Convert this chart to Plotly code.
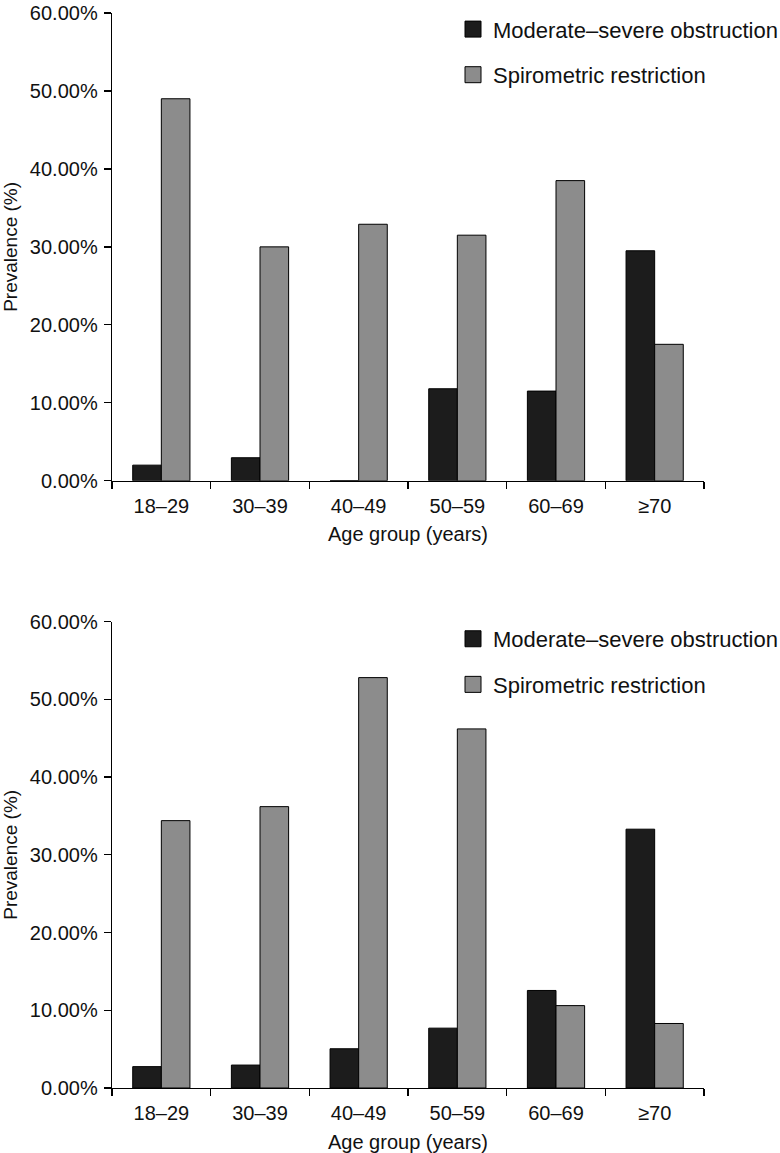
import plotly.graph_objects as go

categories = ["18–29", "30–39", "40–49", "50–59", "60–69", "≥70"]
series_names = ["Moderate–severe obstruction", "Spirometric restriction"]
top_obstruction = [2.0, 2.95, 0.0, 11.8, 11.5, 29.5]
top_restriction = [49.0, 30.0, 32.9, 31.5, 38.5, 17.5]
bottom_obstruction = [2.75, 2.95, 5.05, 7.7, 12.55, 33.3]
bottom_restriction = [34.4, 36.2, 52.8, 46.2, 10.6, 8.3]
y_ticks = [0, 10, 20, 30, 40, 50, 60]
x_title = "Age group (years)"
y_title = "Prevalence (%)"

colors = ["#1c1c1c", "#8c8c8c"]
FONT = "Liberation Sans, Arial, Helvetica, sans-serif"
W, H = 780, 1153

# plot area in pixels
L, R, T, B = 112, 704, 12.7, 1088.3
PH = B - T
PW = R - L

fig = go.Figure()

panels = [
    ("x", "y", [top_obstruction, top_restriction], "legend"),
    ("x2", "y2", [bottom_obstruction, bottom_restriction], "legend2"),
]
for xa, ya, vals, leg in panels:
    for i, (name, v) in enumerate(zip(series_names, vals)):
        fig.add_trace(go.Bar(
            x=categories, y=v, name=name, xaxis=xa, yaxis=ya,
            marker=dict(color=colors[i], line=dict(color="#000000", width=1)),
            showlegend=False,
        ))
        fig.add_trace(go.Scatter(
            x=[None], y=[None], mode="markers", name=name, xaxis=xa, yaxis=ya,
            marker=dict(symbol="square", size=16, color=colors[i],
                        line=dict(color="#000000", width=1)),
            legend=leg, legendgroup=f"{leg}_{i}", showlegend=True,
        ))

top_dom = [(B - 480.7) / PH, 1]
bot_dom = [0, (B - 621.7) / PH]

def xaxis(anchor):
    return dict(
        domain=[0, 1], anchor=anchor, type="category",
        range=[-0.5, 5.5], automargin=False,
        showline=True, linecolor="#000000", linewidth=1.3,
        ticks="outside", tickson="boundaries", ticklen=7, tickwidth=1.3,
        tickcolor="#000000", showgrid=False, zeroline=False,
        ticklabelstandoff=7,
        tickfont=dict(family=FONT, size=20, color="#111111"),
        title=dict(text=x_title, font=dict(family=FONT, size=20, color="#111111"), standoff=11),
        fixedrange=True,
    )

def yaxis(anchor, dom):
    return dict(
        domain=dom, anchor=anchor, range=[0, 60], automargin=False,
        tickvals=y_ticks, ticktext=[f"{t:.2f}%" for t in y_ticks],
        showline=True, linecolor="#000000", linewidth=1.3,
        ticks="outside", ticklen=7, tickwidth=1.3, tickcolor="#000000",
        ticklabelstandoff=2,
        showgrid=False, zeroline=False,
        tickfont=dict(family=FONT, size=20, color="#111111"),
        title=dict(text=y_title, font=dict(family=FONT, size=19, color="#111111"), standoff=8),
        fixedrange=True,
    )

legend_common = dict(
    xanchor="left", yanchor="top", bgcolor="rgba(0,0,0,0)", borderwidth=0,
    font=dict(family=FONT, size=22, color="#111111"),
    tracegroupgap=14, itemwidth=30, traceorder="grouped",
)

fig.update_layout(
    width=W, height=H,
    margin=dict(l=L, r=W - R, t=T, b=H - B, autoexpand=False),
    paper_bgcolor="white", plot_bgcolor="white",
    barmode="group", bargap=0.42, bargroupgap=0,
    xaxis=xaxis("y"), yaxis=yaxis("x", top_dom),
    xaxis2=xaxis("y2"), yaxis2=yaxis("x2", bot_dom),
    legend=dict(x=(453 - L) / PW, y=(B - 8) / PH, **legend_common),
    legend2=dict(x=(453 - L) / PW, y=(B - 618) / PH, **legend_common),
    font=dict(family=FONT),
)

fig.write_html(
    "out.html",
    config={"displayModeBar": False, "staticPlot": True},
    post_script="document.body.style.margin='0';document.body.style.padding='0';",
)
